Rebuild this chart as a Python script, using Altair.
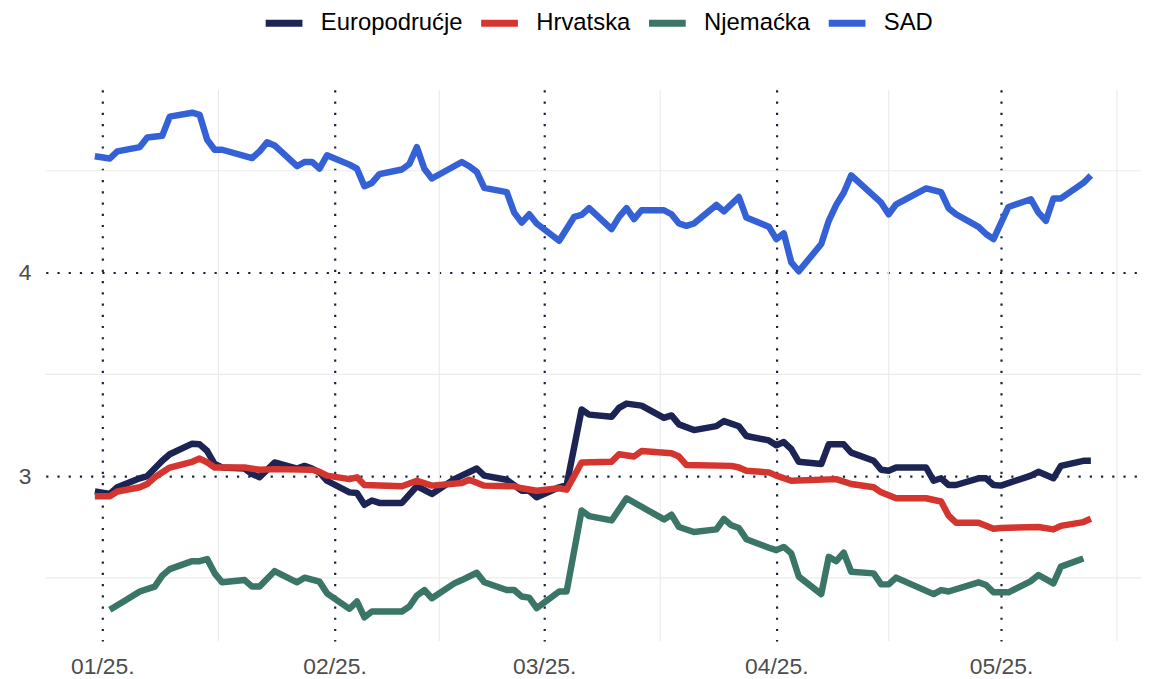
import altair as alt
import pandas as pd
from datetime import datetime, timezone

SERIES = ["Europodrućje", "Hrvatska", "Njemaćka", "SAD"]
COLORS = ["#1b2453", "#d4352f", "#3a7567", "#3462d6"]

ea_dates = ["2024-12-31", "2025-01-02", "2025-01-03", "2025-01-06", "2025-01-07", "2025-01-09",
            "2025-01-10", "2025-01-13", "2025-01-14", "2025-01-15", "2025-01-16", "2025-01-17",
            "2025-01-20", "2025-01-21", "2025-01-22", "2025-01-24", "2025-01-27", "2025-01-28",
            "2025-01-29", "2025-01-30", "2025-01-31", "2025-02-03", "2025-02-04", "2025-02-05",
            "2025-02-06", "2025-02-07", "2025-02-10", "2025-02-12", "2025-02-14", "2025-02-17",
            "2025-02-20", "2025-02-21", "2025-02-24", "2025-02-26", "2025-02-27", "2025-02-28",
            "2025-03-03", "2025-03-04", "2025-03-06", "2025-03-07", "2025-03-10", "2025-03-11",
            "2025-03-12", "2025-03-14", "2025-03-17", "2025-03-18", "2025-03-19", "2025-03-21",
            "2025-03-24", "2025-03-25", "2025-03-27", "2025-03-28", "2025-03-31", "2025-04-01",
            "2025-04-02", "2025-04-03", "2025-04-04", "2025-04-07", "2025-04-08", "2025-04-10",
            "2025-04-11", "2025-04-14", "2025-04-15", "2025-04-16", "2025-04-17", "2025-04-21",
            "2025-04-22", "2025-04-23", "2025-04-24", "2025-04-25", "2025-04-28", "2025-04-29",
            "2025-04-30", "2025-05-01", "2025-05-05", "2025-05-06", "2025-05-08", "2025-05-09",
            "2025-05-12", "2025-05-13"]
ea_vals = [2.925, 2.912, 2.945, 2.989, 3.0, 3.075,
           3.107, 3.159, 3.156, 3.123, 3.059, 3.042,
           3.037, 3.01, 2.994, 3.067, 3.037, 3.05,
           3.037, 3.018, 2.977, 2.92, 2.917, 2.859,
           2.88, 2.868, 2.868, 2.95, 2.912, 2.985,
           3.037, 3.002, 2.982, 2.928, 2.928, 2.896,
           2.945, 2.956, 3.327, 3.302, 3.291, 3.335,
           3.356, 3.346, 3.286, 3.298, 3.254, 3.226,
           3.245, 3.27, 3.245, 3.197, 3.175, 3.151,
           3.167, 3.132, 3.07, 3.059, 3.156, 3.156,
           3.115, 3.075, 3.031, 3.026, 3.042, 3.042,
           2.977, 2.989, 2.956, 2.956, 2.989, 2.989,
           2.956, 2.953, 3.002, 3.021, 2.989, 3.05,
           3.075, 3.075]

hr_dates = ["2024-12-31", "2025-01-02", "2025-01-03", "2025-01-06", "2025-01-07", "2025-01-08",
            "2025-01-10", "2025-01-13", "2025-01-14", "2025-01-15", "2025-01-16", "2025-01-17",
            "2025-01-20", "2025-01-22", "2025-01-24", "2025-01-29", "2025-01-30", "2025-01-31",
            "2025-02-03", "2025-02-04", "2025-02-05", "2025-02-10", "2025-02-12", "2025-02-14",
            "2025-02-18", "2025-02-19", "2025-02-21", "2025-02-25", "2025-02-26", "2025-02-28",
            "2025-03-03", "2025-03-04", "2025-03-06", "2025-03-10", "2025-03-11", "2025-03-13",
            "2025-03-14", "2025-03-18", "2025-03-19", "2025-03-20", "2025-03-26", "2025-03-27",
            "2025-03-28", "2025-03-31", "2025-04-01", "2025-04-03", "2025-04-09", "2025-04-11",
            "2025-04-14", "2025-04-15", "2025-04-17", "2025-04-21", "2025-04-23", "2025-04-24",
            "2025-04-25", "2025-04-28", "2025-04-30", "2025-05-01", "2025-05-06", "2025-05-08",
            "2025-05-09", "2025-05-12", "2025-05-13"]
hr_vals = [2.901, 2.901, 2.924, 2.945, 2.961, 2.994,
           3.042, 3.07, 3.086, 3.067, 3.042, 3.042,
           3.042, 3.031, 3.034, 3.031, 3.021, 3.002,
           2.985, 2.994, 2.956, 2.95, 2.977, 2.953,
           2.966, 2.982, 2.953, 2.95, 2.94, 2.928,
           2.94, 2.933, 3.067, 3.07, 3.107, 3.096,
           3.123, 3.112, 3.096, 3.054, 3.05, 3.042,
           3.026, 3.018, 3.002, 2.977, 2.985, 2.961,
           2.945, 2.92, 2.891, 2.891, 2.875, 2.806,
           2.771, 2.771, 2.741, 2.745, 2.75, 2.738,
           2.755, 2.774, 2.79]

de_dates = ["2025-01-02", "2025-01-04", "2025-01-06", "2025-01-08", "2025-01-09", "2025-01-10",
            "2025-01-13", "2025-01-14", "2025-01-15", "2025-01-16", "2025-01-17", "2025-01-20",
            "2025-01-21", "2025-01-22", "2025-01-24", "2025-01-27", "2025-01-28", "2025-01-30",
            "2025-01-31", "2025-02-03", "2025-02-04", "2025-02-05", "2025-02-06", "2025-02-10",
            "2025-02-11", "2025-02-12", "2025-02-13", "2025-02-14", "2025-02-17", "2025-02-18",
            "2025-02-20", "2025-02-21", "2025-02-24", "2025-02-25", "2025-02-26", "2025-02-27",
            "2025-02-28", "2025-03-03", "2025-03-04", "2025-03-06", "2025-03-07", "2025-03-10",
            "2025-03-12", "2025-03-17", "2025-03-18", "2025-03-19", "2025-03-21", "2025-03-24",
            "2025-03-25", "2025-03-26", "2025-03-27", "2025-03-28", "2025-03-31", "2025-04-01",
            "2025-04-02", "2025-04-03", "2025-04-04", "2025-04-07", "2025-04-08", "2025-04-09",
            "2025-04-10", "2025-04-11", "2025-04-14", "2025-04-15", "2025-04-16", "2025-04-17",
            "2025-04-22", "2025-04-23", "2025-04-24", "2025-04-28", "2025-04-29", "2025-04-30",
            "2025-05-02", "2025-05-05", "2025-05-06", "2025-05-08", "2025-05-09", "2025-05-12"]
de_vals = [2.343, 2.387, 2.433, 2.457, 2.511, 2.543,
           2.582, 2.582, 2.592, 2.522, 2.478, 2.489,
           2.457, 2.457, 2.533, 2.478, 2.501, 2.481,
           2.424, 2.348, 2.384, 2.306, 2.335, 2.335,
           2.359, 2.413, 2.44, 2.4, 2.473, 2.489,
           2.525, 2.478, 2.44, 2.44, 2.408, 2.403,
           2.351, 2.433, 2.433, 2.831, 2.803, 2.782,
           2.891, 2.787, 2.81, 2.75, 2.725, 2.738,
           2.79, 2.758, 2.745, 2.69, 2.648, 2.636,
           2.652, 2.62, 2.506, 2.42, 2.603, 2.582,
           2.624, 2.53, 2.522, 2.468, 2.468, 2.501,
           2.42, 2.44, 2.433, 2.478, 2.465, 2.429,
           2.429, 2.484, 2.514, 2.473, 2.555, 2.595]

us_dates = ["2024-12-31", "2025-01-02", "2025-01-03", "2025-01-06", "2025-01-07", "2025-01-09",
            "2025-01-10", "2025-01-13", "2025-01-14", "2025-01-15", "2025-01-16", "2025-01-17",
            "2025-01-21", "2025-01-22", "2025-01-23", "2025-01-24", "2025-01-27", "2025-01-28",
            "2025-01-29", "2025-01-30", "2025-01-31", "2025-02-03", "2025-02-04", "2025-02-05",
            "2025-02-06", "2025-02-07", "2025-02-10", "2025-02-11", "2025-02-12", "2025-02-13",
            "2025-02-14", "2025-02-18", "2025-02-19", "2025-02-20", "2025-02-21", "2025-02-24",
            "2025-02-25", "2025-02-26", "2025-02-27", "2025-02-28", "2025-03-03", "2025-03-05",
            "2025-03-06", "2025-03-07", "2025-03-10", "2025-03-11", "2025-03-12", "2025-03-13",
            "2025-03-14", "2025-03-17", "2025-03-18", "2025-03-19", "2025-03-20", "2025-03-21",
            "2025-03-24", "2025-03-25", "2025-03-27", "2025-03-28", "2025-03-31", "2025-04-01",
            "2025-04-02", "2025-04-03", "2025-04-04", "2025-04-07", "2025-04-08", "2025-04-09",
            "2025-04-10", "2025-04-11", "2025-04-15", "2025-04-16", "2025-04-17", "2025-04-21",
            "2025-04-23", "2025-04-24", "2025-04-25", "2025-04-28", "2025-04-29", "2025-04-30",
            "2025-05-02", "2025-05-05", "2025-05-06", "2025-05-07", "2025-05-08", "2025-05-09",
            "2025-05-12", "2025-05-13"]
us_vals = [4.571, 4.56, 4.595, 4.616, 4.663, 4.672,
           4.766, 4.785, 4.774, 4.652, 4.603, 4.603,
           4.562, 4.595, 4.64, 4.624, 4.522, 4.543,
           4.543, 4.51, 4.576, 4.53, 4.51, 4.424,
           4.44, 4.483, 4.506, 4.533, 4.616, 4.51,
           4.462, 4.543, 4.522, 4.494, 4.416, 4.395,
           4.294, 4.245, 4.286, 4.241, 4.156, 4.273,
           4.283, 4.316, 4.213, 4.273, 4.316, 4.262,
           4.306, 4.306, 4.286, 4.241, 4.229, 4.241,
           4.332, 4.3, 4.371, 4.27, 4.225, 4.164,
           4.192, 4.05, 4.006, 4.14, 4.254, 4.332,
           4.392, 4.477, 4.343, 4.286, 4.335, 4.413,
           4.395, 4.316, 4.286, 4.224, 4.189, 4.164,
           4.322, 4.36, 4.294, 4.254, 4.364, 4.364,
           4.44, 4.477]

month_ticks = ["2025-01-01", "2025-02-01", "2025-03-01", "2025-04-01", "2025-05-01"]
minor_x = ["2025-01-16T12:00:00", "2025-02-15T00:00:00", "2025-03-16T12:00:00",
           "2025-04-16T00:00:00", "2025-05-16T12:00:00"]
major_y = [3, 4]
minor_y = [2.5, 3.5, 4.5]

frames = []
for name, d, v in [(SERIES[0], ea_dates, ea_vals), (SERIES[1], hr_dates, hr_vals),
                   (SERIES[2], de_dates, de_vals), (SERIES[3], us_dates, us_vals)]:
    frames.append(pd.DataFrame({"date": d, "value": v, "series": name}))
df = pd.concat(frames, ignore_index=True)


def ms(s):
    return int(datetime.fromisoformat(s).replace(tzinfo=timezone.utc).timestamp() * 1000)


x_dom = [ms("2024-12-24T10:36:00"), ms("2025-05-19T16:48:00")]
y_dom = [2.1902, 4.8976]

xscale = alt.Scale(type="utc", domain=x_dom, nice=False)
yscale = alt.Scale(domain=y_dom, nice=False, zero=False)

DOT = "#1a2140"
FONT = "Liberation Sans"

x_axis = alt.Axis(values=[ms(s) for s in month_ticks],
                  labelExpr="utcFormat(datum.value, '%m/%y.')",
                  labelFont=FONT, labelFontSize=23, labelColor="#4d4d4d",
                  labelPadding=15, ticks=False, tickSize=0, domain=False,
                  grid=True, gridColor=DOT, gridWidth=2.2, gridDash=[2.2, 9.1])
y_axis = alt.Axis(values=major_y, format="d",
                  labelFont=FONT, labelFontSize=23, labelColor="#4d4d4d",
                  labelPadding=15, ticks=False, tickSize=0, domain=False,
                  grid=True, gridColor=DOT, gridWidth=2.2, gridDash=[2.2, 9.1])

minor_x_df = pd.DataFrame({"date": [ms(s) for s in minor_x]})
minor_y_df = pd.DataFrame({"value": minor_y})

vgrid = alt.Chart(minor_x_df).mark_rule(color="#ebebeb", strokeWidth=1.2).encode(
    x=alt.X("date:T", scale=xscale, axis=x_axis, title=None)
)
hgrid = alt.Chart(minor_y_df).mark_rule(color="#ebebeb", strokeWidth=1.2).encode(
    y=alt.Y("value:Q", scale=yscale, axis=y_axis, title=None)
)

lines = alt.Chart(df).mark_line(strokeWidth=6.5, strokeJoin="round", strokeCap="butt").encode(
    x=alt.X("date:T", scale=xscale, axis=x_axis, title=None),
    y=alt.Y("value:Q", scale=yscale, axis=y_axis, title=None),
    color=alt.Color("series:N", title=None,
                    scale=alt.Scale(domain=SERIES, range=COLORS),
                    legend=alt.Legend(orient="none", direction="horizontal",
                                      legendX=218, legendY=-89,
                                      symbolType="stroke", symbolSize=1369,
                                      symbolStrokeWidth=7, labelFont=FONT,
                                      labelFontSize=24, labelColor="#000000",
                                      labelOffset=15, columnPadding=4, padding=0)),
    detail="series:N",
)

chart = alt.layer(vgrid, hgrid, lines).properties(
    width=1103, height=555,
    background="white",
    autosize=alt.AutoSizeParams(type="none"),
    padding={"left": 38, "top": 80, "right": 4, "bottom": 36},
).configure_view(strokeOpacity=0, strokeWidth=0)

chart.save("out.html", embed_options={"renderer": "svg", "actions": False})
